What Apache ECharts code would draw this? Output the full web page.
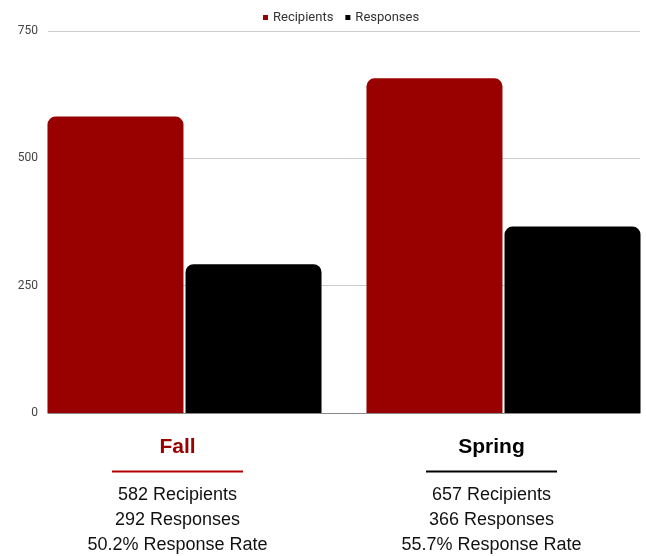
<!DOCTYPE html>
<html>
<head>
<meta charset="utf-8">
<script src="https://cdn.jsdelivr.net/npm/echarts@6/dist/echarts.min.js"></script>
<style>html,body{margin:0;padding:0;background:#fff}#c{width:646px;height:556px}</style>
</head>
<body>
<div id="c"></div>
<script>
const categories = ['Fall', 'Spring'];
const recipients = [582, 657];
const responses = [292, 366];
const responseRates = ['50.2%', '55.7%'];
const yTicks = [0, 250, 500, 750];

const titleColors = ['#990000', '#000000'];
const lineColors = ['#b00000', '#000000'];
const labelShift = [0, 10];

const rich = {};
categories.forEach((c, i) => {
  const pad = [0, labelShift[i], 0, 0];
  rich['t' + i] = { fontFamily: 'Liberation Sans', fontSize: 21, fontWeight: 'bold', color: titleColors[i], lineHeight: 25, align: 'center', padding: pad };
  rich['u' + i] = { width: 131, height: 2, backgroundColor: lineColors[i], lineHeight: 23, align: 'center', fontSize: 2 };
  rich['s' + i] = { width: labelShift[i], height: 2, lineHeight: 23, fontSize: 2 };
  rich['l' + i] = { fontFamily: 'Liberation Sans', fontSize: 18, color: '#111', lineHeight: 25, align: 'center', padding: pad };
});

const chart = echarts.init(document.getElementById('c'), null, { renderer: 'canvas' });
chart.setOption({
  animation: false,
  legend: {
    top: 6, left: 258,
    itemWidth: 5, itemHeight: 5, itemGap: 12,
    icon: 'rect',
    textStyle: { fontFamily: 'Roboto', fontSize: 13, color: '#333' },
    data: ['Recipients', 'Responses']
  },
  grid: [
    { left: 48, right: 6, top: 31, bottom: 143, outerBoundsMode: 'none' },
    { left: 25, right: -17, top: 31, bottom: 143, outerBoundsMode: 'none' }
  ],
  xAxis: [
    { type: 'category', gridIndex: 0, data: categories,
      axisLine: { show: true, lineStyle: { color: '#888', width: 1 } },
      axisTick: { show: false }, axisLabel: { show: false }, splitLine: { show: false } },
    { type: 'category', gridIndex: 1, data: categories,
      axisLine: { show: false }, axisTick: { show: false },
      axisLabel: {
        margin: 22, interval: 0,
        padding: [0, 14, 0, 0],
        formatter: (v, i) => '{t' + i + '|' + v + '}\n{u' + i + '| }{s' + i + '| }\n{l' + i + '|' + recipients[i] + ' Recipients}\n{l' + i + '|' + responses[i] + ' Responses}\n{l' + i + '|' + responseRates[i] + ' Response Rate}',
        rich: rich
      } }
  ],
  yAxis: [
    { type: 'value', gridIndex: 0, min: yTicks[0], max: yTicks[yTicks.length - 1], interval: yTicks[1] - yTicks[0],
      axisLine: { show: false }, axisTick: { show: false },
      axisLabel: { margin: 10, fontFamily: 'Roboto', fontSize: 12, color: '#444' },
      splitLine: { show: true, lineStyle: { color: '#cccccc', width: 1 } } },
    { type: 'value', gridIndex: 1, min: yTicks[0], max: yTicks[yTicks.length - 1], interval: yTicks[1] - yTicks[0],
      show: false, splitLine: { show: false } }
  ],
  series: [
    { name: 'Recipients', type: 'bar', xAxisIndex: 1, yAxisIndex: 1, data: recipients,
      barWidth: 136, barGap: '1.5%',
      itemStyle: { color: '#990000', borderRadius: [8, 8, 0, 0] } },
    { name: 'Responses', type: 'bar', xAxisIndex: 1, yAxisIndex: 1, data: responses,
      barWidth: 136, barGap: '1.5%',
      itemStyle: { color: '#000000', borderRadius: [8, 8, 0, 0] } }
  ]
});
</script>
</body>
</html>
